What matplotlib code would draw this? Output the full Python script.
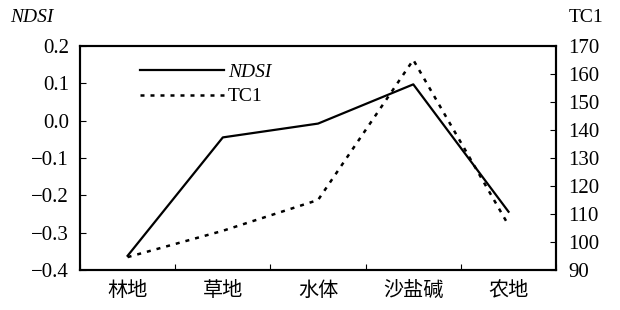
import matplotlib
matplotlib.use("Agg")
import matplotlib.pyplot as plt
import numpy as np

categories = ["林地", "草地", "水体", "沙盐碱", "农地"]
ndsi = [-0.362, -0.045, -0.008, 0.097, -0.244]
tc1 = [94.6, 104.0, 115.0, 165.0, 106.0]
left_ticks = [0.2, 0.1, 0.0, -0.1, -0.2, -0.3, -0.4]
right_ticks = [90, 100, 110, 120, 130, 140, 150, 160, 170]

serif = ["Liberation Serif", "DejaVu Serif"]
cjk = ["Noto Sans CJK SC", "DejaVu Sans"]

fig = plt.figure(figsize=(6.2, 3.1), dpi=100)
ax = fig.add_axes([0.129, 0.129, 0.768, 0.723])
ax2 = ax.twinx()

x = np.arange(len(categories)) + 0.5
l1, = ax.plot(x, ndsi, color="black", lw=1.6, label="NDSI")
l2, = ax2.plot(x, tc1, color="black", lw=1.8, linestyle=(0, (1.6, 2.4)), label="TC1")

ax.set_xlim(0, 5)
ax.set_ylim(-0.4, 0.2)
ax2.set_ylim(90, 170)
ax.set_xticks(np.arange(0, 6))
ax.set_xticklabels([])
ax.set_xticks(x, minor=True)
ax.set_xticklabels(categories, minor=True, fontfamily=cjk, fontsize=14.5)
ax.tick_params(axis="x", which="minor", length=0, pad=7)
ax.tick_params(axis="x", which="major", direction="in", length=4)
ax.set_yticks(left_ticks)
ax.set_yticklabels(["0.2", "0.1", "0.0", "\u22120.1", "\u22120.2", "\u22120.3", "\u22120.4"],
                   fontfamily=serif, fontsize=15)
ax.tick_params(axis="y", direction="in", length=4, pad=8)
ax2.set_yticks(right_ticks)
ax2.set_yticklabels([str(t) for t in right_ticks], fontfamily=serif, fontsize=15)
ax2.tick_params(axis="y", direction="in", length=4, pad=9)

for a in (ax, ax2):
    for s in a.spines.values():
        s.set_linewidth(1.5)

fig.text(0.016, 0.945, "NDSI", fontfamily=serif, fontstyle="italic", fontsize=14, va="center")
fig.text(0.918, 0.945, "TC1", fontfamily=serif, fontsize=14, va="center")

leg = ax.legend([l1, l2], ["NDSI", "TC1"], loc="upper left", bbox_to_anchor=(0.09, 1.0),
                frameon=False, handlelength=4.3, handletextpad=0.2, labelspacing=0.35,
                prop={"family": serif, "size": 14})
leg.get_texts()[0].set_fontstyle("italic")

fig.savefig("out.png", dpi=100)
